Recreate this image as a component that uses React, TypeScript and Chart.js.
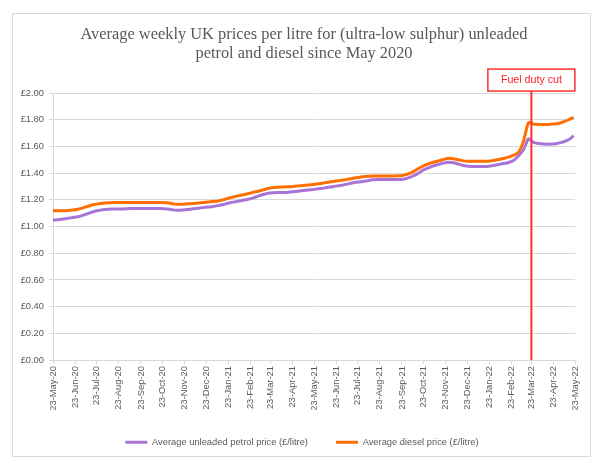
import React, { useEffect, useRef } from "react";
import { Chart, registerables } from "chart.js";

Chart.register(...registerables);

const titleLines = [
  "Average weekly UK prices per litre for (ultra-low sulphur) unleaded",
  "petrol and diesel since May 2020",
];

const tickLabels = [
  "23-May-20", "23-Jun-20", "23-Jul-20", "23-Aug-20", "23-Sep-20", "23-Oct-20",
  "23-Nov-20", "23-Dec-20", "23-Jan-21", "23-Feb-21", "23-Mar-21", "23-Apr-21",
  "23-May-21", "23-Jun-21", "23-Jul-21", "23-Aug-21", "23-Sep-21", "23-Oct-21",
  "23-Nov-21", "23-Dec-21", "23-Jan-22", "23-Feb-22", "23-Mar-22", "23-Apr-22",
  "23-May-22",
];

const seriesNames = [
  "Average unleaded petrol price (£/litre)",
  "Average diesel price (£/litre)",
];

// weekly readings, first week = 23-May-20
const petrolPrices = [
  1.049, 1.051, 1.056, 1.062, 1.068, 1.074, 1.085, 1.097, 1.110, 1.120,
  1.126, 1.129, 1.131, 1.131, 1.132, 1.134, 1.135, 1.135, 1.135, 1.135,
  1.135, 1.135, 1.134, 1.132, 1.125, 1.123, 1.124, 1.128, 1.133, 1.138,
  1.142, 1.146, 1.150, 1.157, 1.165, 1.175, 1.183, 1.190, 1.197, 1.205,
  1.215, 1.228, 1.240, 1.249, 1.253, 1.255, 1.255, 1.256, 1.260, 1.265,
  1.270, 1.274, 1.278, 1.283, 1.288, 1.294, 1.300, 1.306, 1.312, 1.320,
  1.328, 1.334, 1.338, 1.345, 1.350, 1.352, 1.352, 1.352, 1.352, 1.353,
  1.355, 1.365, 1.380, 1.400, 1.425, 1.440, 1.455, 1.465, 1.475, 1.482,
  1.478, 1.468, 1.458, 1.452, 1.450, 1.450, 1.450, 1.452, 1.458, 1.465,
  1.472, 1.480, 1.495, 1.530, 1.575, 1.658, 1.630, 1.622, 1.618, 1.617,
  1.618, 1.625, 1.635, 1.650, 1.680,
];

const dieselPrices = [
  1.118, 1.118, 1.118, 1.120, 1.124, 1.130, 1.140, 1.152, 1.163, 1.170,
  1.175, 1.178, 1.180, 1.181, 1.181, 1.181, 1.181, 1.181, 1.181, 1.181,
  1.181, 1.181, 1.181, 1.178, 1.170, 1.168, 1.168, 1.170, 1.173, 1.176,
  1.180, 1.184, 1.188, 1.192, 1.200, 1.212, 1.222, 1.230, 1.238, 1.247,
  1.256, 1.265, 1.275, 1.285, 1.292, 1.295, 1.297, 1.298, 1.300, 1.304,
  1.308, 1.312, 1.316, 1.320, 1.326, 1.332, 1.338, 1.343, 1.348, 1.355,
  1.362, 1.368, 1.373, 1.376, 1.378, 1.379, 1.379, 1.379, 1.379, 1.380,
  1.385, 1.395, 1.412, 1.435, 1.455, 1.470, 1.482, 1.492, 1.502, 1.512,
  1.508, 1.500, 1.492, 1.490, 1.490, 1.490, 1.490, 1.490, 1.495, 1.502,
  1.510, 1.520, 1.535, 1.555, 1.640, 1.780, 1.768, 1.765, 1.764, 1.765,
  1.768, 1.772, 1.785, 1.800, 1.818,
];

const yTickValues = [0, 0.2, 0.4, 0.6, 0.8, 1.0, 1.2, 1.4, 1.6, 1.8, 2.0];

const eventLabel = "Fuel duty cut";
const eventDate = "23-Mar-22";

const MONTHS = ["Jan", "Feb", "Mar", "Apr", "May", "Jun", "Jul", "Aug", "Sep", "Oct", "Nov", "Dec"];
function dayOf(label: string): number {
  const [d, mon, yy] = label.split("-");
  const start = Date.UTC(2020, 4, 23);
  return (Date.UTC(2000 + Number(yy), MONTHS.indexOf(mon), Number(d)) - start) / 86400000;
}

const tickDays = tickLabels.map(dayOf);
const weekDays = petrolPrices.map((_, i) => i * 7);

const GRAY_TEXT = "#595959";
const GRID = "#d9d9d9";
const SANS = '"Liberation Sans", Arial, sans-serif';

const eventPlugin = {
  id: "eventLine",
  afterDatasetsDraw(chart: any) {
    const { ctx, chartArea, scales } = chart;
    const x = scales.x.getPixelForValue(dayOf(eventDate));
    ctx.save();
    ctx.font = `10.67px ${SANS}`;
    const tw = ctx.measureText(eventLabel).width;
    const bw = tw + 26;
    const bh = 22;
    const by = chartArea.top - 24;
    ctx.strokeStyle = "#ff3030";
    ctx.lineWidth = 2;
    ctx.beginPath();
    ctx.moveTo(x, by + bh);
    ctx.lineTo(x, chartArea.bottom);
    ctx.stroke();
    ctx.fillStyle = "#ffffff";
    ctx.fillRect(x - bw / 2, by, bw, bh);
    ctx.lineWidth = 1.5;
    ctx.strokeRect(x - bw / 2, by, bw, bh);
    ctx.fillStyle = "#ff2020";
    ctx.textAlign = "center";
    ctx.textBaseline = "middle";
    ctx.fillText(eventLabel, x, by + bh / 2 + 0.5);
    ctx.restore();
  },
};

// nudge the title and legend blocks so they are centred like the original
const centrePlugin = {
  id: "centreBlocks",
  afterLayout(chart: any) {
    if (chart.titleBlock) {
      chart.titleBlock.left += 6.5;
      chart.titleBlock.right += 6.5;
    }
    if (chart.legend) {
      chart.legend.left += 4.5;
      chart.legend.right += 4.5;
    }
  },
};

export default function App() {
  const ref = useRef<HTMLCanvasElement | null>(null);

  useEffect(() => {
    document.body.style.margin = "0";
    const canvas = ref.current;
    if (!canvas) return;
    const chart = new Chart(canvas, {
      type: "line",
      data: {
        datasets: [
          {
            label: seriesNames[0],
            data: weekDays.map((d, i) => ({ x: d, y: petrolPrices[i] })),
            borderColor: "#a874d8",
            backgroundColor: "#a874d8",
            borderWidth: 3,
            pointRadius: 0,
            tension: 0.2,
          },
          {
            label: seriesNames[1],
            data: weekDays.map((d, i) => ({ x: d, y: dieselPrices[i] })),
            borderColor: "#ff6f00",
            backgroundColor: "#ff6f00",
            borderWidth: 3,
            pointRadius: 0,
            tension: 0.2,
          },
        ],
      },
      options: {
        animation: false,
        responsive: false,
        events: [],
        layout: { padding: { left: 20, right: 25, top: 0, bottom: 11 } },
        plugins: {
          title: {
            display: true,
            text: titleLines,
            color: GRAY_TEXT,
            font: { family: '"Liberation Serif", "Times New Roman", serif', size: 16.4, weight: "normal", lineHeight: 1.16 },
            padding: { top: 25, bottom: 30 },
          },
          legend: {
            position: "bottom",
            labels: {
              usePointStyle: true,
              pointStyle: "line",
              pointStyleWidth: 22,
              color: GRAY_TEXT,
              font: { family: SANS, size: 9.33 },
              padding: 28,
            },
          },
          tooltip: { enabled: false },
        },
        scales: {
          x: {
            type: "linear",
            min: tickDays[0],
            max: tickDays[tickDays.length - 1],
            afterBuildTicks: (scale: any) => {
              scale.ticks = tickDays.map((v) => ({ value: v }));
            },
            afterFit: (scale: any) => {
              scale.height -= 3;
            },
            ticks: {
              autoSkip: false,
              minRotation: 90,
              maxRotation: 90,
              color: GRAY_TEXT,
              font: { family: SANS, size: 9.33 },
              padding: 2,
              callback: (_v: any, i: number) => tickLabels[i],
            },
            grid: { drawOnChartArea: false, drawTicks: true, tickLength: 4, color: GRID },
            border: { color: GRID },
          },
          y: {
            min: 0,
            max: 2,
            afterBuildTicks: (scale: any) => {
              scale.ticks = yTickValues.map((v) => ({ value: v }));
            },
            afterFit: (scale: any) => {
              scale.width = 33;
            },
            ticks: {
              color: GRAY_TEXT,
              font: { family: SANS, size: 9.33 },
              padding: 5,
              callback: (v: any) => "£" + Number(v).toFixed(2),
            },
            grid: { color: GRID, tickLength: 4 },
            border: { color: GRID },
          },
        },
      },
      plugins: [eventPlugin, centrePlugin],
    });
    return () => chart.destroy();
  }, []);

  return (
    <div style={{ position: "relative", width: 600, height: 468, background: "#fff" }}>
      <div
        style={{
          position: "absolute",
          left: 12,
          top: 13,
          width: 577,
          height: 442,
          border: "1px solid #d9d9d9",
        }}
      />
      <canvas ref={ref} width={600} height={468} style={{ position: "absolute", left: 0, top: 0 }} />
    </div>
  );
}
